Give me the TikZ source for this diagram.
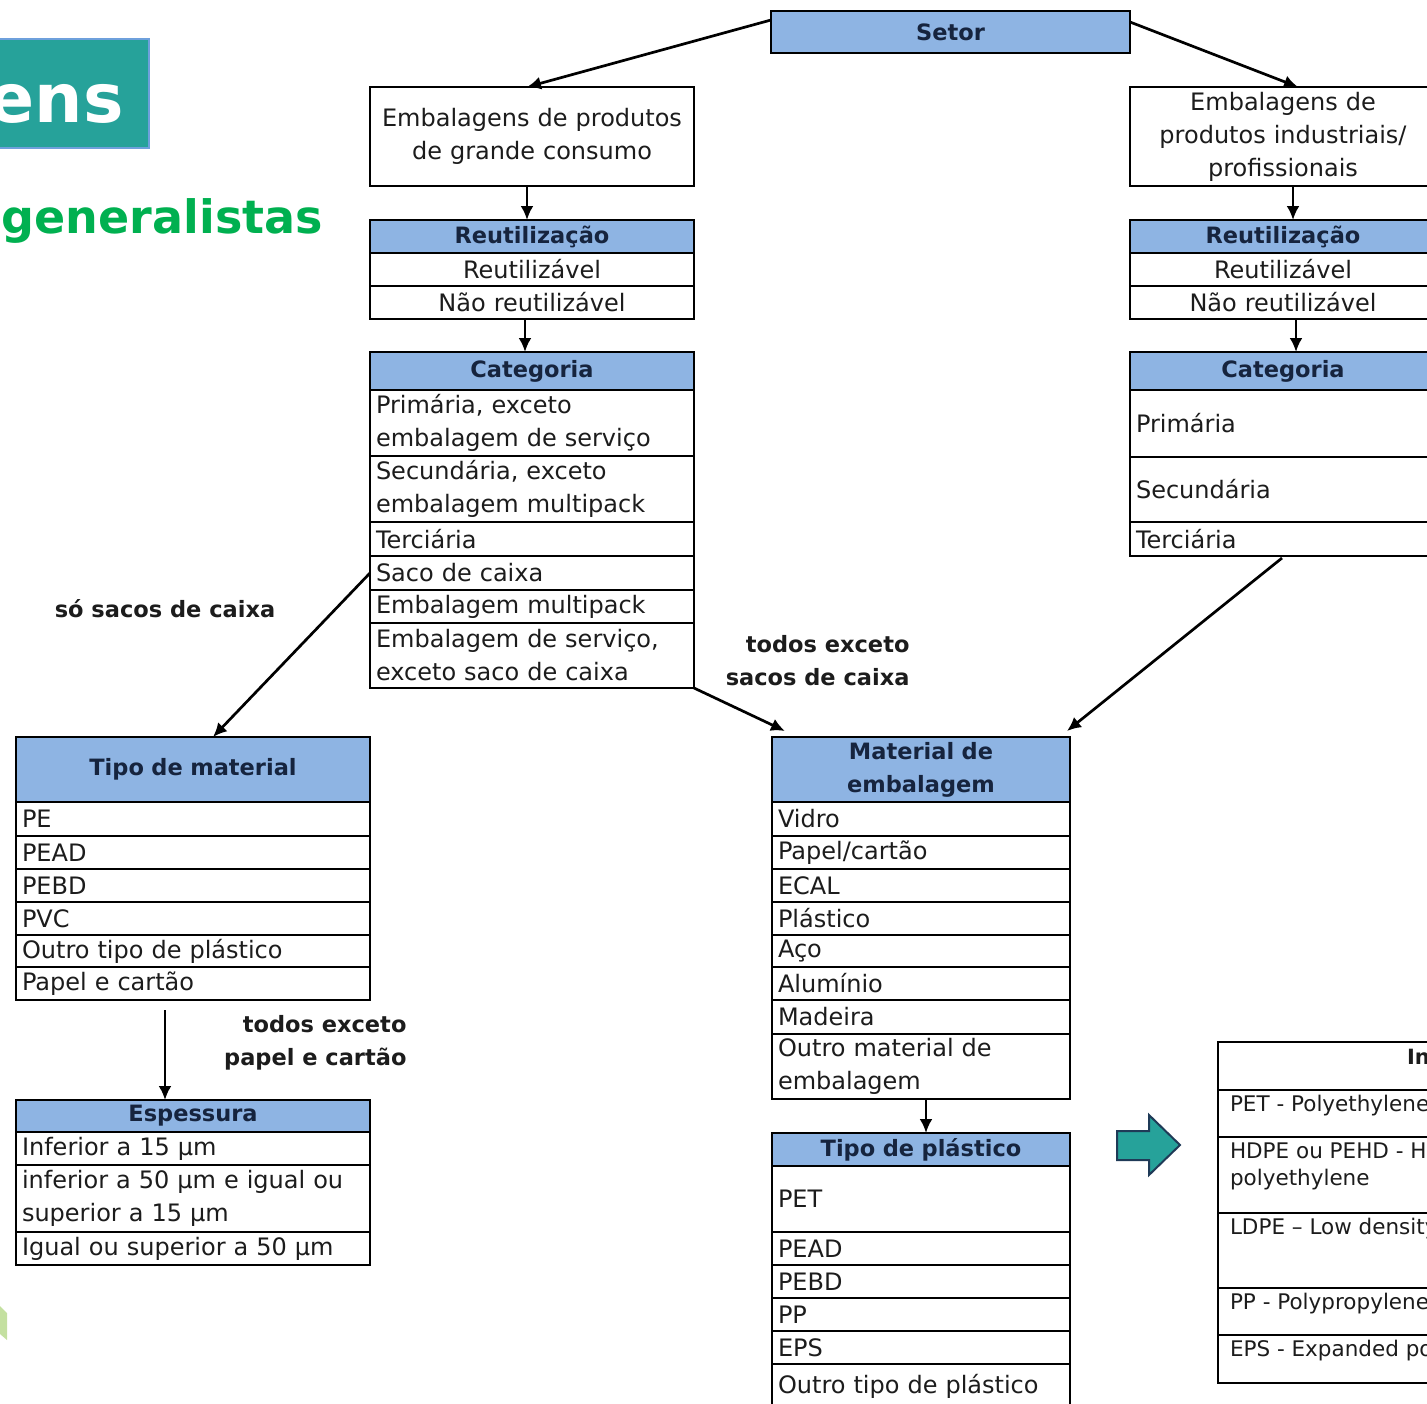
\documentclass[tikz,border=0pt]{standalone}
\usepackage{fontspec}
\setmainfont{DejaVu Sans}
\usetikzlibrary{positioning,arrows.meta}

\definecolor{hdrblue}{RGB}{142,180,227}
\definecolor{hdrtext}{RGB}{22,36,62}
\definecolor{tealbox}{RGB}{38,162,154}
\definecolor{tealedge}{RGB}{31,58,87}
\definecolor{titleedge}{RGB}{110,160,220}
\definecolor{greentxt}{RGB}{0,176,80}
\definecolor{leafgreen}{RGB}{196,224,160}
\definecolor{bodytxt}{RGB}{28,28,28}

\newcommand{\bodyfont}{\fontsize{24}{33}\selectfont}
\newcommand{\hdrfont}{\fontsize{22.5}{33}\selectfont\bfseries}
\newcommand{\engfont}{\fontsize{21.5}{27}\selectfont}
\newcommand{\engcell}[2]{\parbox[c][#1pt][t]{426pt}{\vspace*{5pt}#2}}

\tikzset{
  tbl/.style={draw=black, line width=1.3pt, inner xsep=6pt, inner ysep=0pt, outer sep=0pt},
  hdr/.style={tbl, fill=hdrblue, text=hdrtext, font=\hdrfont, align=center, minimum height=33},
  cell/.style={tbl, fill=white, text=bodytxt, font=\bodyfont, align=left, minimum height=33},
  ccell/.style={cell, align=center},
  ecell/.style={tbl, fill=white, text=bodytxt, font=\engfont, inner xsep=12pt, align=left},
  colA/.style={text width=312pt},
  colB/.style={text width=294pt},
  colC/.style={text width=342pt},
  colD/.style={text width=286pt},
  arr/.style={-{Latex[length=14pt,width=13pt]}, line width=2.7pt},
  note/.style={font=\hdrfont, text=bodytxt, align=right},
}

\begin{document}
\begin{tikzpicture}[x=1pt, y=-1pt, node distance=0pt]
  \useasboundingbox (0,0) rectangle (1427,1403);
  \clip (0,0) rectangle (1427,1403);

  % title fragments on the left
  \node[draw=titleedge, line width=1.5pt, fill=tealbox, anchor=north west,
        minimum width=158, minimum height=109] (ttl) at (-10,38) {};
  \node[anchor=base east, text=white, font=\fontsize{68}{70}\selectfont\bfseries,
        inner sep=0pt] (ens) at (124,122) {ens};
  \node[anchor=base east, text=greentxt, font=\fontsize{46}{50}\selectfont\bfseries,
        inner sep=0pt] (gen) at (323,233) {generalistas};
  \fill[leafgreen] (0,1306) -- (7,1313) -- (7,1340) -- (0,1334) -- cycle;

  % sector
  \node[hdr, anchor=north west, text width=347pt, minimum height=42] (setor) at (771,11) {Setor};

  % left column
  \node[ccell, colA, anchor=north west, minimum height=99] (lcons) at (370,87)
    {Embalagens de produtos\\de grande consumo};
  \node[hdr, colA, anchor=north west] (lreu) at (370,220) {Reutilização};
  \node[ccell, colA] (lreu1) [below=of lreu] {Reutilizável};
  \node[ccell, colA] (lreu2) [below=of lreu1] {Não reutilizável};
  \node[hdr, colA, anchor=north west, minimum height=38] (lcat) at (370,352) {Categoria};
  \node[cell, colA, minimum height=66] (lprim) [below=of lcat] {Primária, exceto\\embalagem de serviço};
  \node[cell, colA, minimum height=66] (lsec) [below=of lprim] {Secundária, exceto\\embalagem multipack};
  \node[cell, colA, minimum height=34] (lter) [below=of lsec] {Terciária};
  \node[cell, colA, minimum height=34] (saco) [below=of lter] {Saco de caixa};
  \node[cell, colA] (multi) [below=of saco] {Embalagem multipack};
  \node[cell, colA, minimum height=65] (serv) [below=of multi] {Embalagem de serviço,\\exceto saco de caixa};

  % right column
  \node[ccell, colB, anchor=north west, minimum height=99] (rcons) at (1130,87)
    {Embalagens de\\produtos industriais/\\profissionais};
  \node[hdr, colB, anchor=north west] (rreu) at (1130,220) {Reutilização};
  \node[ccell, colB] (rreu1) [below=of rreu] {Reutilizável};
  \node[ccell, colB] (rreu2) [below=of rreu1] {Não reutilizável};
  \node[hdr, colB, anchor=north west, minimum height=38] (rcat) at (1130,352) {Categoria};
  \node[cell, colB, minimum height=67] (rprim) [below=of rcat] {Primária};
  \node[cell, colB, minimum height=65] (rsec) [below=of rprim] {Secundária};
  \node[cell, colB, minimum height=34] (rter) [below=of rsec] {Terciária};

  % tipo de material / espessura
  \node[hdr, colC, anchor=north west, minimum height=65] (tmat) at (16,737) {Tipo de material};
  \node[cell, colC, minimum height=34] (tpe) [below=of tmat] {PE};
  \node[cell, colC] (tpead) [below=of tpe] {PEAD};
  \node[cell, colC] (tpebd) [below=of tpead] {PEBD};
  \node[cell, colC] (tpvc) [below=of tpebd] {PVC};
  \node[cell, colC, minimum height=32] (toutro) [below=of tpvc] {Outro tipo de plástico};
  \node[cell, colC] (tpapel) [below=of toutro] {Papel e cartão};
  \node[hdr, colC, anchor=north west, minimum height=32] (esp) at (16,1100) {Espessura};
  \node[cell, colC] (esp1) [below=of esp] {Inferior a 15 µm};
  \node[cell, colC, minimum height=67] (esp2) [below=of esp1] {inferior a 50 µm e igual ou\\superior a 15 µm};
  \node[cell, colC] (esp3) [below=of esp2] {Igual ou superior a 50 µm};

  % material de embalagem / tipo de plastico
  \node[hdr, colD, anchor=north west, minimum height=65] (mat) at (772,737) {Material de\\embalagem};
  \node[cell, colD, minimum height=34] (mvid) [below=of mat] {Vidro};
  \node[cell, colD] (mpap) [below=of mvid] {Papel/cartão};
  \node[cell, colD] (mecal) [below=of mpap] {ECAL};
  \node[cell, colD] (mplas) [below=of mecal] {Plástico};
  \node[cell, colD, minimum height=32] (maco) [below=of mplas] {Aço};
  \node[cell, colD] (malu) [below=of maco] {Alumínio};
  \node[cell, colD, minimum height=34] (mmad) [below=of malu] {Madeira};
  \node[cell, colD, minimum height=65] (moutro) [below=of mmad] {Outro material de\\embalagem};
  \node[hdr, colD, anchor=north west] (tplast) at (772,1133) {Tipo de plástico};
  \node[cell, colD, minimum height=66] (ppet) [below=of tplast] {PET};
  \node[cell, colD] (ppead) [below=of ppet] {PEAD};
  \node[cell, colD] (ppebd) [below=of ppead] {PEBD};
  \node[cell, colD] (ppp) [below=of ppebd] {PP};
  \node[cell, colD] (peps) [below=of ppp] {EPS};
  \node[cell, colD, minimum height=44] (poutro) [below=of peps] {Outro tipo de plástico};

  % english table on the right
  \node[ecell, anchor=north west] (eng) at (1218,1042)
    {\parbox[c][48pt][t]{426pt}{\vspace*{6pt}\centering\fontsize{21}{27}\selectfont\bfseries Inglês}};
  \node[ecell] (epet) [below=of eng] {\engcell{47}{PET - Polyethylene terephthalate}};
  \node[ecell] (ehdpe) [below=of epet] {\engcell{76}{HDPE ou PEHD - High density\\polyethylene}};
  \node[ecell] (eldpe) [below=of ehdpe] {\engcell{75}{LDPE – Low density polyethylene}};
  \node[ecell] (epp) [below=of eldpe] {\engcell{47}{PP - Polypropylene}};
  \node[ecell] (eeps) [below=of epp] {\engcell{48}{EPS - Expanded polystyrene}};
  \draw[tealedge, fill=tealbox, line width=2pt]
    (1117,1131) -- (1149,1131) -- (1149,1115) -- (1180,1145) -- (1149,1175)
    -- (1149,1160) -- (1117,1160) -- cycle;

  % labels on the branches
  \node[note] (lsaco) at (165,609) {só sacos de caixa};
  \node[note, anchor=east] (ltodos) at (913,661) {todos exceto\\sacos de caixa};
  \node[note, anchor=east] (lpapel) at (410,1043) {todos exceto\\papel e cartão};

  \path[arr]
    ([yshift=12pt]setor.west) edge ([xshift=-5pt]lcons.north)
    ([yshift=10pt]setor.east) edge ([xshift=15pt]rcons.north)
    ([xshift=-5pt]lcons.south) edge ([xshift=-5pt]lreu.north)
    ([xshift=-7pt]lreu2.south) edge ([xshift=-7pt]lcat.north)
    ([xshift=10pt]rcons.south) edge ([xshift=10pt]rreu.north)
    ([xshift=13pt]rreu2.south) edge ([xshift=13pt]rcat.north)
    (saco.west) edge ([xshift=20pt]tmat.north)
    (serv.south east) edge ([xshift=13pt,yshift=6pt]mat.north west)
    ([xshift=-1pt,yshift=-2pt]rter.south) edge ([xshift=-3pt,yshift=6pt]mat.north east)
    ([xshift=-28pt,yshift=-10pt]tpapel.south) edge ([xshift=-28pt]esp.north)
    ([xshift=5pt]moutro.south) edge ([xshift=5pt]tplast.north);
\end{tikzpicture}
\end{document}
